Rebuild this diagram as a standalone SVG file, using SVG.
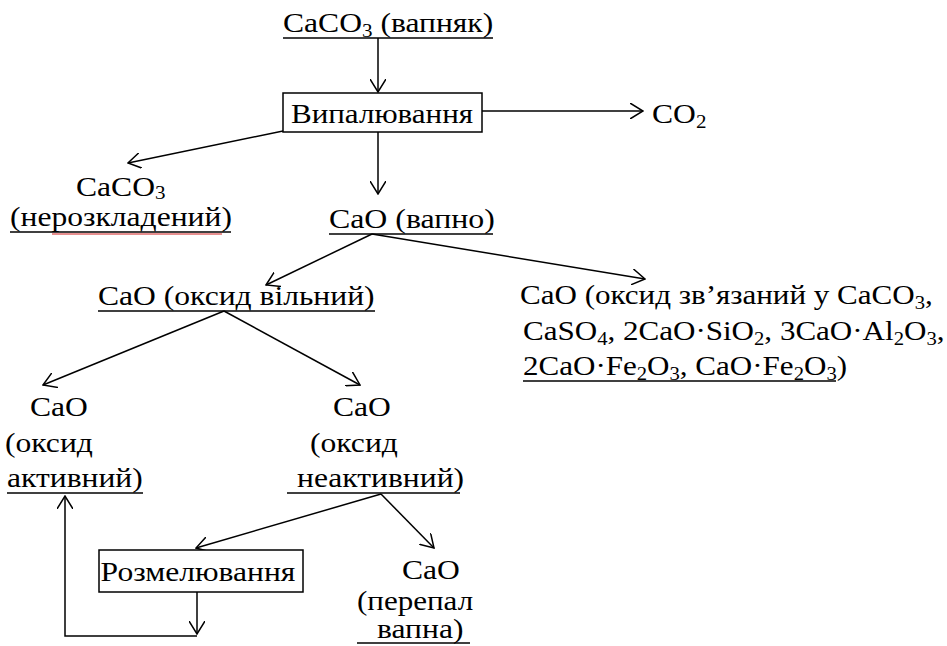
<svg xmlns="http://www.w3.org/2000/svg" width="947" height="646" viewBox="0 0 947 646" font-family="Liberation Serif">
<defs>
<marker id="ah" viewBox="0 0 14 16" refX="13" refY="8" markerWidth="14" markerHeight="16" markerUnits="userSpaceOnUse" orient="auto">
<path d="M0,0 L13,8 L0,16" fill="none" stroke="#000" stroke-width="1.5"/>
</marker>
</defs>
<rect width="947" height="646" fill="#fff"/>
<g id="connectors" fill="none" stroke="#000" stroke-width="1.5">
<line x1="378" y1="38" x2="378" y2="92" marker-end="url(#ah)"/>
<line x1="482" y1="111" x2="643" y2="111" marker-end="url(#ah)"/>
<line x1="283" y1="131" x2="128" y2="163" marker-end="url(#ah)"/>
<line x1="378" y1="132" x2="378" y2="194" marker-end="url(#ah)"/>
<line x1="372" y1="234" x2="266" y2="285" marker-end="url(#ah)"/>
<line x1="372" y1="234" x2="645" y2="279" marker-end="url(#ah)"/>
<line x1="224" y1="311" x2="43" y2="385" marker-end="url(#ah)"/>
<line x1="224" y1="311" x2="360" y2="385" marker-end="url(#ah)"/>
<line x1="381" y1="494" x2="196" y2="548" marker-end="url(#ah)"/>
<line x1="381" y1="494" x2="434" y2="548" marker-end="url(#ah)"/>
<line x1="197" y1="592" x2="197" y2="634" marker-end="url(#ah)"/>
<polyline points="197,636 65,636 65,496" marker-end="url(#ah)"/>
</g>
<g id="limestone" font-family="Liberation Serif">
<text font-family="Liberation Serif" style="font-family:'Liberation Serif'" font-size="27" fill="#000" transform="translate(283,32) scale(1.17,1)">CaCO<tspan font-size="18" dy="5">3</tspan><tspan dy="-5"> (вапняк)</tspan></text>
<line x1="283" y1="38" x2="493" y2="38" stroke="#000" stroke-width="1.5"/>
</g>
<g id="roasting" font-family="Liberation Serif">
<rect x="283" y="93" width="199" height="39" fill="#fff" stroke="#000" stroke-width="1.5"/>
<text font-family="Liberation Serif" style="font-family:'Liberation Serif'" font-size="27" fill="#000" transform="translate(382,123) scale(1.15,1)" text-anchor="middle">Випалювання</text>
</g>
<g id="co2" font-family="Liberation Serif">
<text font-family="Liberation Serif" style="font-family:'Liberation Serif'" font-size="27" fill="#000" transform="translate(652,123) scale(1.17,1)">CO<tspan font-size="18" dy="5">2</tspan></text>
</g>
<g id="undecomposed" font-family="Liberation Serif">
<text font-family="Liberation Serif" style="font-family:'Liberation Serif'" font-size="27" fill="#000" transform="translate(76,196) scale(1.17,1)">CaCO<tspan font-size="18" dy="3">3</tspan></text>
<text font-family="Liberation Serif" style="font-family:'Liberation Serif'" font-size="27" fill="#000" transform="translate(10,226) scale(1.17,1)">(нерозкладений)</text>
<line x1="10" y1="232" x2="231" y2="232" stroke="#000" stroke-width="1.5"/>
<line x1="52" y1="234" x2="222" y2="234" stroke="#d02020" stroke-width="1"/>
</g>
<g id="lime" font-family="Liberation Serif">
<text font-family="Liberation Serif" style="font-family:'Liberation Serif'" font-size="27" fill="#000" transform="translate(329,228) scale(1.18,1)">CaO (вапно)</text>
<line x1="329" y1="234" x2="493" y2="234" stroke="#000" stroke-width="1.5"/>
</g>
<g id="free-oxide" font-family="Liberation Serif">
<text font-family="Liberation Serif" style="font-family:'Liberation Serif'" font-size="27" fill="#000" transform="translate(98,305) scale(1.17,1)">CaO (оксид вільний)</text>
<line x1="98" y1="311" x2="375" y2="311" stroke="#000" stroke-width="1.5"/>
</g>
<g id="bound-oxide" font-family="Liberation Serif">
<text font-family="Liberation Serif" style="font-family:'Liberation Serif'" font-size="27" fill="#000" transform="translate(520,304) scale(1.15,1)">CaO (оксид зв’язаний у CaCO<tspan font-size="18" dy="5">3</tspan><tspan dy="-5">,</tspan></text>
<text font-family="Liberation Serif" style="font-family:'Liberation Serif'" font-size="27" fill="#000" transform="translate(523,340) scale(1.15,1)">CaSO<tspan font-size="18" dy="5">4</tspan><tspan dy="-5">, 2CaO·SiO</tspan><tspan font-size="18" dy="5">2</tspan><tspan dy="-5">, 3CaO·Al</tspan><tspan font-size="18" dy="5">2</tspan><tspan dy="-5">O</tspan><tspan font-size="18" dy="5">3</tspan><tspan dy="-5">,</tspan></text>
<text font-family="Liberation Serif" style="font-family:'Liberation Serif'" font-size="27" fill="#000" transform="translate(523,375) scale(1.15,1)">2CaO·Fe<tspan font-size="18" dy="5">2</tspan><tspan dy="-5">O</tspan><tspan font-size="18" dy="5">3</tspan><tspan dy="-5">, CaO·Fe</tspan><tspan font-size="18" dy="5">2</tspan><tspan dy="-5">O</tspan><tspan font-size="18" dy="5">3</tspan><tspan dy="-5">)</tspan></text>
<line x1="523" y1="381" x2="836" y2="381" stroke="#000" stroke-width="1.5"/>
</g>
<g id="active-oxide" font-family="Liberation Serif">
<text font-family="Liberation Serif" style="font-family:'Liberation Serif'" font-size="27" fill="#000" transform="translate(30,416) scale(1.17,1)">CaO</text>
<text font-family="Liberation Serif" style="font-family:'Liberation Serif'" font-size="27" fill="#000" transform="translate(5,452) scale(1.17,1)">(оксид</text>
<text font-family="Liberation Serif" style="font-family:'Liberation Serif'" font-size="27" fill="#000" transform="translate(7,487) scale(1.17,1)">активний)</text>
<line x1="7" y1="493" x2="143" y2="493" stroke="#000" stroke-width="1.5"/>
</g>
<g id="inactive-oxide" font-family="Liberation Serif">
<text font-family="Liberation Serif" style="font-family:'Liberation Serif'" font-size="27" fill="#000" transform="translate(333,416) scale(1.17,1)">CaO</text>
<text font-family="Liberation Serif" style="font-family:'Liberation Serif'" font-size="27" fill="#000" transform="translate(310,452) scale(1.17,1)">(оксид</text>
<text font-family="Liberation Serif" style="font-family:'Liberation Serif'" font-size="27" fill="#000" transform="translate(297,487) scale(1.17,1)">неактивний)</text>
<line x1="287" y1="493" x2="460" y2="493" stroke="#000" stroke-width="1.5"/>
</g>
<g id="grinding" font-family="Liberation Serif">
<rect x="99" y="550" width="204" height="42" fill="#fff" stroke="#000" stroke-width="1.5"/>
<text font-family="Liberation Serif" style="font-family:'Liberation Serif'" font-size="27" fill="#000" transform="translate(198,581) scale(1.17,1)" text-anchor="middle">Розмелювання</text>
</g>
<g id="overburnt" font-family="Liberation Serif">
<text font-family="Liberation Serif" style="font-family:'Liberation Serif'" font-size="27" fill="#000" transform="translate(402,579) scale(1.17,1)">CaO</text>
<text font-family="Liberation Serif" style="font-family:'Liberation Serif'" font-size="27" fill="#000" transform="translate(357,610) scale(1.15,1)">(перепал</text>
<text font-family="Liberation Serif" style="font-family:'Liberation Serif'" font-size="27" fill="#000" transform="translate(377,638) scale(1.17,1)">вапна)</text>
<line x1="357" y1="643" x2="470" y2="643" stroke="#000" stroke-width="1.5"/>
</g>
</svg>
